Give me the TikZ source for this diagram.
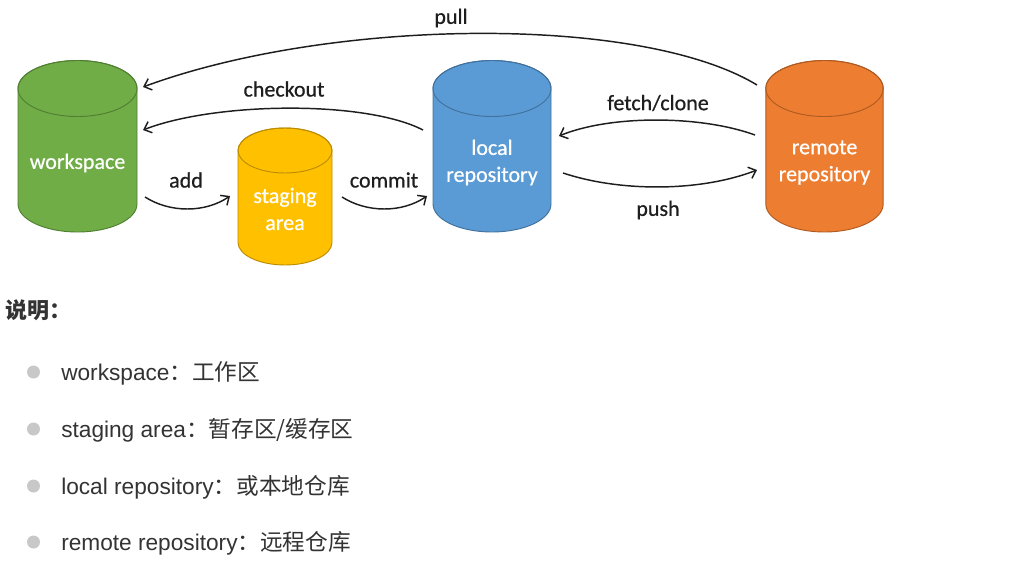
\documentclass[tikz,border=0pt]{standalone}
\usepackage{fontspec}
\setmainfont{Liberation Sans}
\newfontfamily\cjk{Noto Sans CJK SC}
\newfontfamily\calib{Carlito}[FakeBold=0.6]
\usetikzlibrary{arrows.meta}
\definecolor{gfill}{HTML}{70AD47}\definecolor{gline}{HTML}{507E32}
\definecolor{yfill}{HTML}{FFC000}\definecolor{yline}{HTML}{BC8C00}
\definecolor{bfill}{HTML}{5B9BD5}\definecolor{bline}{HTML}{41719C}
\definecolor{ofill}{HTML}{ED7D31}\definecolor{oline}{HTML}{AE5A21}
\definecolor{arrowc}{HTML}{1E1E1E}
\definecolor{txt}{HTML}{333333}
\definecolor{bul}{HTML}{C8C8C8}
% center x, top-ellipse center y, bottom-ellipse center y, rx, ry, fill, line
\newcommand\mycyl[7]{%
  \filldraw[fill=#6,draw=#7,line width=0.7pt] ({#1-#4},{-#2}) -- ({#1-#4},{-#3})
    arc[start angle=180,end angle=360,x radius=#4,y radius=#5] -- ({#1+#4},{-#2})
    arc[start angle=0,end angle=180,x radius=#4,y radius=#5] -- cycle;
  \draw[#7,line width=0.7pt] ({#1},{-#2}) ellipse[x radius=#4,y radius=#5];
}
\tikzset{
  cyltext/.style={text=white,font=\calib\fontsize{16.5}{20.25}\selectfont,align=center,inner sep=0pt},
  lbl/.style={text=arrowc,font=\calib\fontsize{16.5}{20}\selectfont,inner sep=0pt},
  flow/.style={draw=arrowc,line width=1.1pt,-{Straight Barb[length=5pt,width=9pt,line width=1.1pt]}},
  item/.style={anchor=base west,text=txt,font=\fontsize{17}{20}\selectfont,inner sep=0pt},
  bullet/.style={circle,fill=bul,inner sep=0pt,minimum size=9.75pt},
}
\begin{document}
\begin{tikzpicture}[x=0.75pt,y=0.75pt]
\useasboundingbox (0,0) rectangle (1009,-567);
% cylinders
\mycyl{77.5}{88.5}{204}{59.5}{28}{gfill}{gline}
\mycyl{285}{150.5}{242.5}{47}{22.5}{yfill}{yline}
\mycyl{492}{88.5}{204}{59}{28}{bfill}{bline}
\mycyl{824.5}{88.5}{204}{58.7}{28}{ofill}{oline}
\node[cyltext] (ws) at (77.5,-163) {workspace};
\node[cyltext] (sa) at (285,-209) {staging\\area};
\node[cyltext] (lr) at (492,-162.5) {local\\repository};
\node[cyltext] (rr) at (824.5,-162.5) {remote\\repository};
% connector end points
\coordinate (pullS) at (757,-85);   \coordinate (pullE) at (143,-87);
\coordinate (coS) at (423,-130);    \coordinate (coE) at (143,-130);
\coordinate (addS) at (145,-197);   \coordinate (addE) at (230,-196);
\coordinate (cmS) at (342,-197);    \coordinate (cmE) at (427,-196);
\coordinate (fcS) at (755,-135);    \coordinate (fcE) at (559,-136);
\coordinate (psS) at (563,-173);    \coordinate (psE) at (757,-170);
\draw[flow] (pullS) .. controls (640,-14) and (330,-18) .. (pullE);
\draw[flow] (coS) .. controls (365,-100) and (215,-102) .. (coE);
\draw[flow] (addS) .. controls (170,-213) and (205,-213) .. (addE);
\draw[flow] (cmS) .. controls (367,-213) and (402,-213) .. (cmE);
\draw[flow] (fcS) .. controls (700,-115) and (610,-115) .. (fcE);
\draw[flow] (psS) .. controls (620,-192) and (700,-192) .. (psE);
\node[lbl] (lpull) at (451,-18) {pull};
\node[lbl] (lco) at (284,-89) {checkout};
\node[lbl] (ladd) at (186,-180) {add};
\node[lbl] (lcm) at (384,-180) {commit};
\node[lbl] (lfc) at (658,-103) {fetch/clone};
\node[lbl] (lps) at (658,-210) {push};
% explanation
\node[anchor=base west,text=txt,inner sep=0pt,font=\cjk\bfseries\fontsize{16.5}{20}\selectfont] (head) at (5,-318) {说明：};
\node[bullet] (b1) at (33.5,-372) {};
\node[bullet] (b2) at (33.5,-429) {};
\node[bullet] (b3) at (33.5,-486) {};
\node[bullet] (b4) at (33.5,-542) {};
\node[item] (t1) at (61,-380) {workspace{\cjk ：工作区}};
\node[item] (t2) at (61,-437) {staging area{\cjk ：暂存区/缓存区}};
\node[item] (t3) at (61,-494) {local repository{\cjk ：或本地仓库}};
\node[item] (t4) at (61,-550) {remote repository{\cjk ：远程仓库}};
\end{tikzpicture}
\end{document}
